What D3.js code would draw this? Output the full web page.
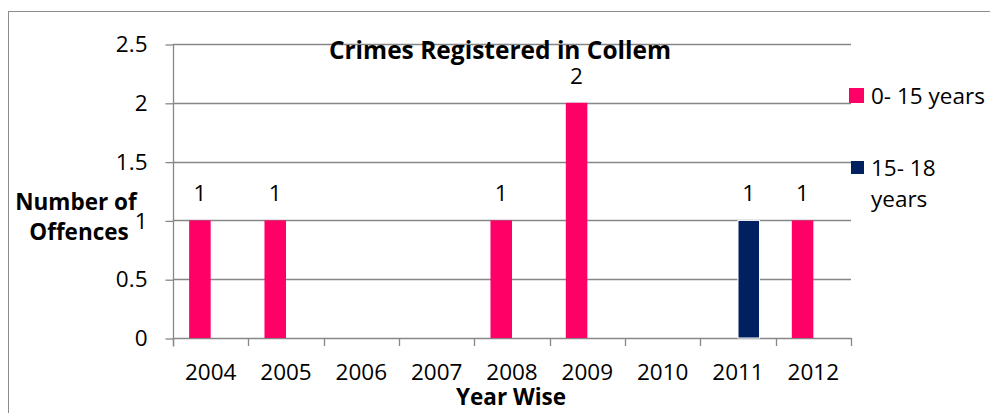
<!DOCTYPE html>
<html>
<head>
<meta charset="utf-8">
<script src="https://cdn.jsdelivr.net/npm/d3@7"></script>
<style>
  html, body { margin: 0; padding: 0; background: #fff; }
  svg { display: block; font-family: "Open Sans", sans-serif; }
</style>
</head>
<body>
<svg id="chart" width="990" height="413"></svg>
<script>
// Offences registered per year, split by age group
const years = ["2004", "2005", "2006", "2007", "2008", "2009", "2010", "2011", "2012"];
const seriesNames = ["0- 15 years", "15- 18 years"];
const young = [1, 1, null, null, 1, 2, null, null, 1];   // 0- 15 years
const teens = [null, null, null, null, null, null, null, 1, null]; // 15- 18 years
const yTicks = [0, 0.5, 1, 1.5, 2, 2.5];
const colors = ["#FF0066", "#002060"];

const svg = d3.select("#chart");
const gridColor = "#878787";

// outer frame
svg.append("rect")
  .attr("x", 8.5).attr("y", 11.5)
  .attr("width", 1000).attr("height", 420)
  .attr("fill", "none").attr("stroke", "#8c8c8c").attr("stroke-width", 1);

const plotL = 173, plotR = 851, plotT = 44, plotB = 338;

const x = d3.scaleBand().domain(years).range([plotL, plotR]).padding(0);
const xSub = d3.scaleBand().domain(seriesNames).range([0, x.bandwidth()])
  .paddingInner(0).paddingOuter(0.75);
const y = d3.scaleLinear().domain([0, 2.5]).range([plotB, plotT]);

// horizontal gridlines
svg.append("g").selectAll("line").data(yTicks).join("line")
  .attr("x1", plotL).attr("x2", plotR)
  .attr("y1", d => Math.round(y(d)) + 0.5).attr("y2", d => Math.round(y(d)) + 0.5)
  .attr("stroke", gridColor).attr("stroke-width", 1.3);

// y axis
const yAxis = svg.append("g")
  .attr("transform", `translate(${plotL + 0.5},0.5)`)
  .call(d3.axisLeft(y).tickValues(yTicks).tickSize(8).tickPadding(18)
    .tickFormat(d => String(d)));
yAxis.select(".domain").remove();
yAxis.selectAll(".tick line").attr("stroke", gridColor).attr("stroke-width", 1.3);
yAxis.selectAll(".tick text")
  .attr("font-family", "Open Sans").attr("font-size", 22.5).attr("fill", "#000");
yAxis.append("line")
  .attr("x1", 0).attr("x2", 0).attr("y1", plotT).attr("y2", plotB + 8)
  .attr("stroke", gridColor).attr("stroke-width", 1.3);

// x axis labels
const xAxis = svg.append("g")
  .attr("transform", `translate(0,${plotB})`)
  .call(d3.axisBottom(x).tickSize(0).tickPadding(26));
xAxis.select(".domain").remove();
xAxis.selectAll(".tick text")
  .attr("font-family", "Open Sans").attr("font-size", 22.5).attr("fill", "#000");

// category boundary ticks
const boundaries = years.map(d => x(d)).concat([x.range()[1]]);
svg.append("g").selectAll("line").data(boundaries).join("line")
  .attr("x1", d => Math.round(d) + 0.5).attr("x2", d => Math.round(d) + 0.5)
  .attr("y1", plotB).attr("y2", plotB + 8)
  .attr("stroke", gridColor).attr("stroke-width", 1.3);

// bars
const rows = years.map((yr, i) => ({ year: yr, values: [young[i], teens[i]] }));
const groups = svg.append("g").selectAll("g").data(rows).join("g")
  .attr("transform", d => `translate(${x(d.year)},0)`);

const barData = d => d.values
  .map((v, k) => ({ key: seriesNames[k], value: v, k }))
  .filter(b => b.value != null);

groups.selectAll("rect").data(barData).join("rect")
  .attr("x", b => xSub(b.key))
  .attr("width", xSub.bandwidth())
  .attr("y", b => y(b.value))
  .attr("height", b => y(0) - y(b.value))
  .attr("fill", b => colors[b.k])
  .attr("stroke", b => b.k === 1 ? "#fff" : "none")
  .attr("stroke-width", 1);

// value labels
groups.selectAll("text").data(barData).join("text")
  .attr("x", b => xSub(b.key) + xSub.bandwidth() / 2)
  .attr("y", b => y(b.value) - 19)
  .attr("text-anchor", "middle")
  .attr("font-size", 22.5).attr("fill", "#000")
  .text(b => b.value);

// title
svg.append("text")
  .attr("x", 500).attr("y", 59)
  .attr("text-anchor", "middle")
  .attr("font-weight", "bold").attr("font-size", 24.5).attr("fill", "#000")
  .text("Crimes Registered in Collem");

// axis titles
const yTitle = svg.append("text")
  .attr("text-anchor", "middle")
  .attr("font-weight", "bold").attr("font-size", 22.5).attr("fill", "#000");
yTitle.append("tspan").attr("x", 76).attr("y", 210).text("Number of");
yTitle.append("tspan").attr("x", 79).attr("y", 240).text("Offences");

svg.append("text")
  .attr("x", 511).attr("y", 405)
  .attr("text-anchor", "middle")
  .attr("font-weight", "bold").attr("font-size", 22.5).attr("fill", "#000")
  .text("Year Wise");

// legend
const legend = svg.append("g");
legend.append("rect").attr("x", 849).attr("y", 88).attr("width", 15).attr("height", 15)
  .attr("fill", colors[0]);
legend.append("text").attr("x", 871).attr("y", 104)
  .attr("font-size", 22.5).attr("fill", "#000").text(seriesNames[0]);
legend.append("rect").attr("x", 851).attr("y", 161).attr("width", 13).attr("height", 13)
  .attr("fill", colors[1]);
const l2 = legend.append("text").attr("font-size", 22.5).attr("fill", "#000");
l2.append("tspan").attr("x", 871).attr("y", 176).text("15- 18");
l2.append("tspan").attr("x", 871).attr("y", 207).text("years");
</script>
</body>
</html>
